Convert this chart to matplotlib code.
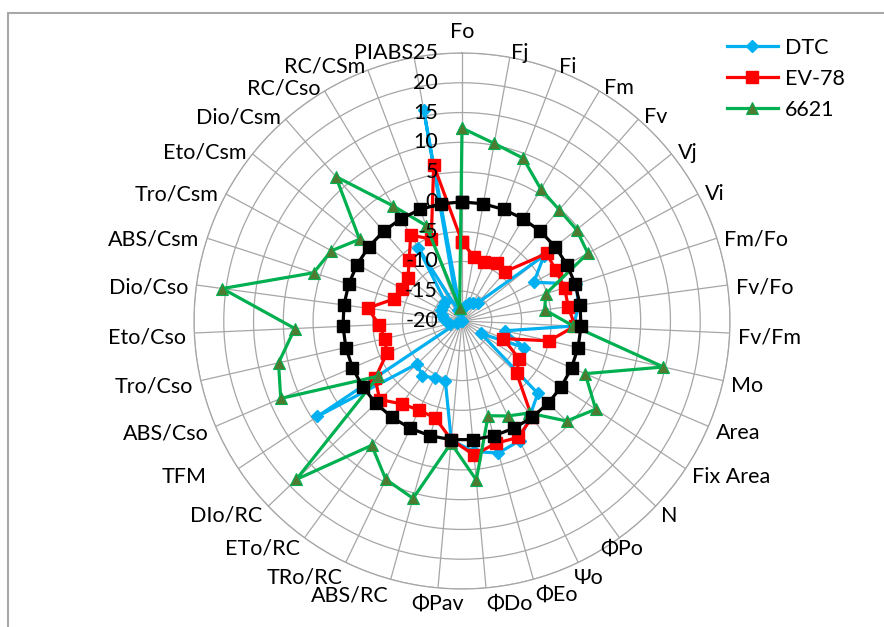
import numpy as np
import matplotlib
matplotlib.use('Agg')
import matplotlib.pyplot as plt
import matplotlib.transforms as mtransforms
from matplotlib.patches import Rectangle
from matplotlib.lines import Line2D

categories = ['Fo', 'Fj', 'Fi', 'Fm', 'Fv', 'Vj', 'Vi', 'Fm/Fo', 'Fv/Fo', 'Fv/Fm',
              'Mo', 'Area', 'Fix Area', 'N', 'ΦPo', 'Ψo', 'ΦEo', 'ΦDo', 'ΦPav',
              'ABS/RC', 'TRo/RC', 'ETo/RC', 'DIo/RC', 'TFM', 'ABS/Cso', 'Tro/Cso',
              'Eto/Cso', 'Dio/Cso', 'ABS/Csm', 'Tro/Csm', 'Eto/Csm', 'Dio/Csm',
              'RC/Cso', 'RC/CSm', 'PIABS']

dtc = [-20, -17.5, -16.8, -16.5, -15.9, -2.4, -6.3, 0.2, -0.3, -1.2,
       -12.6, -8.6, -16.2, -2.4, -0.5, 2.3, 3.0, 2.0, 0.1,
       -9.5, -9.4, -8.6, -9.6, 9.1, -19, -18,
       -17.5, -17, -16.5, -16, -16, -15.7,
       -5.7, -18, 16.0]
ev78 = [-6.7, -9.0, -9.4, -8.7, -9.0, -1.8, -2.1, -1.9, -2.0, -1.0,
        -5.0, -12.5, -8.5, -7.3, 0, 1.7, 1.3, 2.6, 0.0,
        -3.1, -3.4, -2.8, -0.9, -2.5, -6.3, -6.7,
        -6.1, -4.0, -8.0, -8.5, -8.4, -6.5,
        -3.2, -5.3, 6.6]
g6621 = [12.4, 10.3, 9.2, 5.8, 4.8, 4.6, 4.0, -5.2, -6.0, -1.3,
         14.7, 2.5, 6.9, 4.3, -0.9, -2.3, -3.5, 6.8, 0.6,
         10.9, 9.5, 5.8, 18.5, -3.2, 13.1, 11.6,
         8.1, 20.6, 6.2, 4.9, 2.0, 12.2,
         2.5, -2.9, -17.8]
control = [0] * 35
radial_ticks = [-20, -15, -10, -5, 0, 5, 10, 15, 20, 25]

FONT = ['Lato', 'DejaVu Sans']
plt.rcParams['font.family'] = FONT
FS = 15.5

W, H = 884, 627
fig = plt.figure(figsize=(W / 100, H / 100), dpi=100)
fig.patch.set_facecolor('white')
# chart-area border
fig.patches.append(Rectangle((8 / W, -0.2), 1.5, 1.2 - 13 / H,
                             transform=fig.transFigure, fill=False,
                             edgecolor='#A8A8A8', lw=1.5))

cx, cy, R = 462, 321, 268
ax = fig.add_axes([(cx - R) / W, (H - cy - R) / H, 2 * R / W, 2 * R / H],
                  projection='polar')
ax.set_theta_zero_location('N')
ax.set_theta_direction(-1)
n = len(categories)
theta = np.arange(n) * 2 * np.pi / n
ax.set_ylim(radial_ticks[0], radial_ticks[-1])
ax.set_xticks(theta)
ax.set_xticklabels([''] * n)
ax.set_yticks(radial_ticks)
ax.set_yticklabels([''] * len(radial_ticks))
ax.grid(True, color='#A6A6A6', lw=0.9)
ax.spines['polar'].set_color('#A6A6A6')
ax.spines['polar'].set_linewidth(0.9)
ax.tick_params(length=0)

def closed(v):
    return np.concatenate([theta, theta[:1]]), np.concatenate([v, v[:1]])

t, v = closed(np.array(dtc, float))
ax.plot(t, v, color='#00B0F0', lw=2.3, marker='D', ms=6.5, mfc='#00B0F0',
        mec='#00B0F0', zorder=3, clip_on=False)
t, v = closed(np.array(ev78, float))
ax.plot(t, v, color='#FF0000', lw=2.3, marker='s', ms=8, mfc='#FF0000',
        mec='#FF0000', zorder=4, clip_on=False)
t, v = closed(np.array(g6621, float))
ax.plot(t, v, color='#00B050', lw=2.3, marker='^', ms=9, mfc='#4F7A32',
        mec='#00B050', mew=0.8, zorder=5, clip_on=False)
t, v = closed(np.array(control, float))
ax.plot(t, v, color='black', lw=2.3, marker='s', ms=8, mfc='black',
        mec='black', zorder=6, clip_on=False)

# radial tick labels, left of the vertical spoke
off = mtransforms.offset_copy(ax.transData, fig=fig, x=-24, y=0, units='dots')
for rv in radial_ticks:
    ax.text(0, rv, str(rv), transform=off, ha='right', va='center',
            fontsize=FS, color='black', zorder=10)

# category labels (extra pixel nudges mimic the spreadsheet's placement)
nudge = {'TFM': (-25, 0), 'ΦPo': (-24, 0), 'Ψo': (-7, 0)}
scale = 45 / R  # data units per pixel
for th, lab in zip(theta, categories):
    s, c = np.sin(th), np.cos(th)
    if s > 0.05:
        ha = 'left'
    elif s < -0.1:
        ha = 'right'
    else:
        ha = 'center'
    dx, dy = nudge.get(lab, (0, 0))
    if c > 0.99:
        va = 'bottom'
        gap = 11
    elif c < -0.9:
        va = 'top'
        gap = 6
    else:
        va = 'center'
        gap = 8
        dy -= 4
    tr = mtransforms.offset_copy(ax.transData, fig=fig, x=dx, y=dy,
                                 units='dots')
    ax.text(th, 25 + gap * scale, lab, ha=ha, va=va, fontsize=FS,
            color='black', clip_on=False, transform=tr)

handles = [Line2D([], [], color='#00B0F0', lw=2.3, marker='D', ms=6.5),
           Line2D([], [], color='#FF0000', lw=2.3, marker='s', ms=8),
           Line2D([], [], color='#00B050', lw=2.3, marker='^', ms=9,
                  mfc='#4F7A32', mec='#00B050', mew=0.8)]
fig.legend(handles, ['DTC', 'EV-78', '6621'], loc='upper left',
           bbox_to_anchor=(727 / W, 1 - 38 / H), frameon=False, fontsize=FS,
           handlelength=2.35, handletextpad=0.35, labelspacing=0.5,
           borderpad=0, borderaxespad=0)

fig.savefig('out.png', dpi=100)
